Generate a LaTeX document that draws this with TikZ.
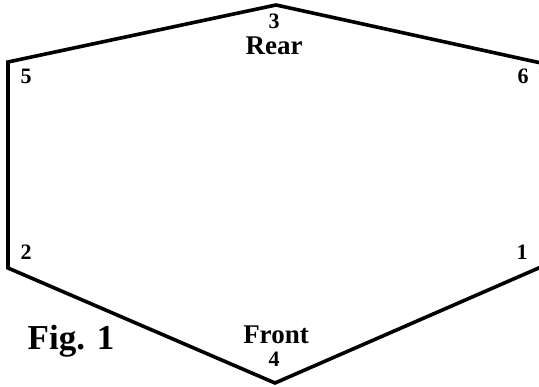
\documentclass[tikz,border=0pt]{standalone}
\usepackage{fontspec}
\setmainfont{Liberation Serif}
\begin{document}
\begin{tikzpicture}[x=1pt,y=1pt,
  edge/.style={line width=3.6pt,line join=miter},
  numlbl/.style={font=\bfseries\fontsize{22}{22}\selectfont,inner sep=0pt,anchor=base},
  wordlbl/.style={font=\bfseries\fontsize{27}{27}\selectfont,inner sep=0pt,anchor=base},
  figlabel/.style={font=\bfseries\fontsize{35}{35}\selectfont,inner sep=0pt,anchor=base}]
\useasboundingbox (0,0) rectangle (539,387);
\coordinate (v3) at (276,382);
\coordinate (v5) at (8,325);
\coordinate (v2) at (8,119);
\coordinate (v4) at (275,4);
\coordinate (v1) at (541,120);
\coordinate (v6) at (541,324);
\draw[edge] (v3) -- (v5) -- (v2) -- (v4) -- (v1) -- (v6) -- cycle;
\node[numlbl] (n5) at (26,303) {5};
\node[numlbl] (n6) at (523,303) {6};
\node[numlbl] (n2) at (26,127) {2};
\node[numlbl] (n1) at (522,127) {1};
\node[numlbl] (n3) at (274,358) {3};
\node[wordlbl] (rear) at (274,332) {Rear};
\node[wordlbl] (front) at (276,43) {Front};
\node[numlbl] (n4) at (274,20) {4};
\node[figlabel] (fig) at (71,37) {Fig. 1};
\end{tikzpicture}
\end{document}
